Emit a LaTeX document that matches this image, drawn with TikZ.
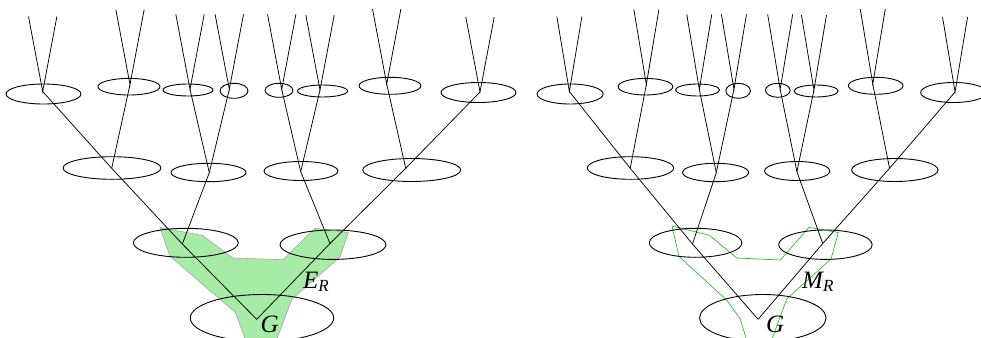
\documentclass[tikz,border=0pt]{standalone}
\usepackage{fontspec}
\setmainfont{Liberation Serif}
\definecolor{regfill}{RGB}{166,235,166}
\definecolor{regedge}{RGB}{165,165,165}
\definecolor{regline}{RGB}{30,200,30}
\tikzset{
  cone/.style={line width=0.9pt},
  branch/.style={line width=0.75pt},
  lbl/.style={inner sep=0pt,anchor=base west,font=\fontsize{25}{29}\selectfont\itshape}
}
% one tree of generations, #1 = prefix of the names
\newcommand{\famtree}[1]{%
  \coordinate (#1g)   at (256.7,319.3);
  \coordinate (#1a)   at (182.3,244);
  \coordinate (#1b)   at (330,243.5);
  \coordinate (#1aa)  at (111.7,168.3);
  \coordinate (#1ab)  at (209.3,172.7);
  \coordinate (#1ba)  at (300.7,171.7);
  \coordinate (#1bb)  at (405.7,168.3);
  \coordinate (#1aaa) at (42.7,91.5);
  \coordinate (#1aab) at (130,84.5);
  \coordinate (#1aba) at (190,89.3);
  \coordinate (#1abb) at (229.3,89.3);
  \coordinate (#1baa) at (281.7,89.3);
  \coordinate (#1bab) at (320,90);
  \coordinate (#1bba) at (386.7,84);
  \coordinate (#1bbb) at (480,92);
  % ellipses
  \draw[cone] (262,318) ellipse (71.7 and 23.5);
  \draw[cone] (185.8,242.8) ellipse (52.5 and 14.5);
  \draw[cone] (333,244.7) ellipse (53 and 14.7);
  \draw[cone] (112,168) ellipse (49 and 11.3);
  \draw[cone] (208.5,172.5) ellipse (37.5 and 9.2);
  \draw[cone] (301,171) ellipse (37 and 9.5);
  \draw[cone] (411.7,170) ellipse (49 and 11.5);
  \draw[cone] (43.5,94) ellipse (37.5 and 10);
  \draw[cone] (129,86.7) ellipse (31 and 8.3);
  \draw[cone] (188,90) ellipse (25 and 6);
  \draw[cone] (234,90.8) ellipse (14 and 7.5);
  \draw[cone] (279,90.3) ellipse (14 and 7);
  \draw[cone] (322.5,91) ellipse (25 and 6);
  \draw[cone] (390,85.8) ellipse (31 and 8.5);
  \draw[cone] (478.5,92.5) ellipse (37.5 and 10);
  % branches
  \draw[branch] (#1g) -- (#1a);
  \draw[branch] (#1g) -- (#1b);
  \draw[branch] (#1a) -- (#1aa);
  \draw[branch] (#1a) -- (#1ab);
  \draw[branch] (#1b) -- (#1ba);
  \draw[branch] (#1b) -- (#1bb);
  \draw[branch] (#1aa) -- (#1aaa);
  \draw[branch] (#1aa) -- (#1aab);
  \draw[branch] (#1ab) -- (#1aba);
  \draw[branch] (#1ab) -- (#1abb);
  \draw[branch] (#1ba) -- (#1baa);
  \draw[branch] (#1ba) -- (#1bab);
  \draw[branch] (#1bb) -- (#1bba);
  \draw[branch] (#1bb) -- (#1bbb);
  \foreach \v in {aaa,aab,aba,abb,baa,bab,bba,bbb}
    \draw[branch] (#1\v) ++(-14.2,-75) -- (#1\v) -- ++(14.2,-75);
}
\begin{document}
\begin{tikzpicture}[x=1pt,y=-1pt]
\useasboundingbox (0,0) rectangle (981,337);
% left: the region E_R
\draw[fill=regfill,draw=regedge,line width=0.6pt] (160,227.5) -- (202.5,235.5) -- (232.8,258)
  -- (283,259.7) -- (315,228.3) -- (348.3,232.5) -- (340,257) -- (292,299) -- (276.5,340)
  -- (245.5,340) -- (235.5,312.5) -- (170,256.3) -- cycle;
\famtree{l}
\node[lbl] (lG) at (260.5,332) {G};
\node[lbl] (lE) at (303,288.3) {E\raisebox{-3.6pt}{\fontsize{17}{17}\selectfont R}};
% right: the region M_R
\draw[regline,line width=0.7pt] (746.7,340) -- (740,318.5) -- (726.7,300) -- (679,256.5)
  -- (672,226) -- (709.5,235.3) -- (736.7,258) -- (780.3,260) -- (809,227.3) -- (838.3,232.5)
  -- (831,259) -- (786.7,299) -- (771.7,340);
\begin{scope}[xshift=531.7pt,xscale=0.882]
\famtree{r}
\end{scope}
\node[lbl] (rG) at (766,332) {G};
\node[lbl] (rM) at (802,288.3) {M\raisebox{-3.6pt}{\fontsize{17}{17}\selectfont R}};
\end{tikzpicture}
\end{document}
